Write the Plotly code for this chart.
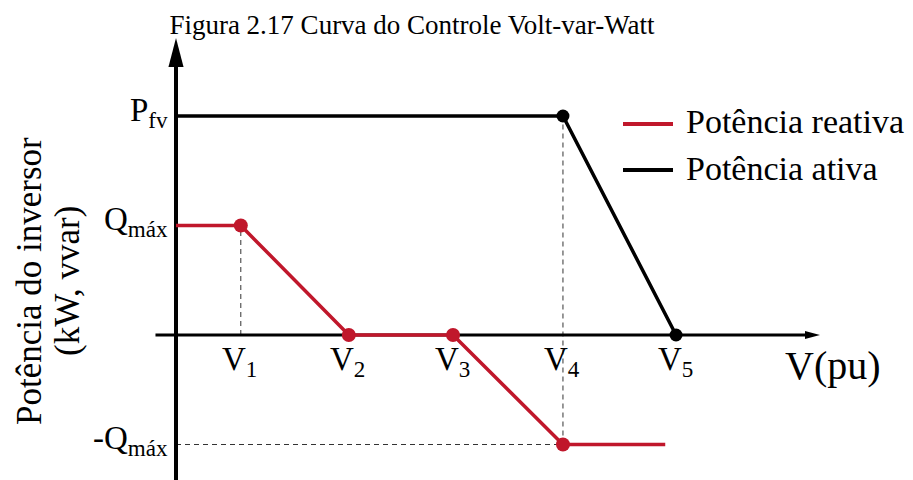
import plotly.graph_objects as go

# Voltage breakpoints of the Volt-var-Watt curve (arbitrary units along V)
v_labels = ["V<sub>1</sub>", "V<sub>2</sub>", "V<sub>3</sub>", "V<sub>4</sub>", "V<sub>5</sub>"]
v_points = [0.60, 1.60, 2.565, 3.583, 4.63]
v_reactive_end = 4.53

# Power levels (arbitrary units)
p_fv = 2.0
q_max = 1.0
y_labels = ["P<sub>fv</sub>", "Q<sub>máx</sub>", "-Q<sub>máx</sub>"]
y_levels = [p_fv, q_max, -q_max]

series_names = ["Potência reativa", "Potência ativa"]
series_colors = ["#C0172B", "#000000"]

y_title_lines = ["Potência do inversor", "(kW, vvar)"]

# Curves
reactive_x = [0.0] + v_points[:4] + [v_reactive_end]
reactive_y = [q_max, q_max, 0.0, 0.0, -q_max, -q_max]
active_x = [0.0, v_points[3], v_points[4]]
active_y = [p_fv, p_fv, 0.0]

# Extent of the drawn axes
x_min, x_max = -1.6296, 6.8241
y_min, y_max = -1.3242, 3.0594
h_axis_start, h_axis_end = -0.19, 5.963
v_axis_top = 2.712

SERIF = "Liberation Serif"

fig = go.Figure()

# Reactive power curve
fig.add_trace(go.Scatter(
    x=reactive_x, y=reactive_y, mode="lines",
    line=dict(color=series_colors[0], width=3.5), hoverinfo="skip"))
fig.add_trace(go.Scatter(
    x=reactive_x[1:5], y=reactive_y[1:5], mode="markers",
    marker=dict(color=series_colors[0], size=14), hoverinfo="skip"))

# Active power curve
fig.add_trace(go.Scatter(
    x=active_x, y=active_y, mode="lines",
    line=dict(color=series_colors[1], width=3.5), hoverinfo="skip"))
fig.add_trace(go.Scatter(
    x=active_x[1:], y=active_y[1:], mode="markers",
    marker=dict(color=series_colors[1], size=13), hoverinfo="skip"))

shapes = []
dash_style = dict(color="#333333", width=1, dash="5px,4px")

# Guide lines
shapes.append(dict(type="line", x0=v_points[0], x1=v_points[0], y0=0, y1=q_max,
                   line=dash_style, layer="below"))
shapes.append(dict(type="line", x0=v_points[3], x1=v_points[3], y0=-q_max, y1=p_fv,
                   line=dash_style, layer="below"))
shapes.append(dict(type="line", x0=0, x1=v_points[3], y0=-q_max, y1=-q_max,
                   line=dash_style, layer="below"))

# Horizontal axis with arrow
shapes.append(dict(type="line", x0=h_axis_start, x1=h_axis_end - 0.08, y0=0, y1=0,
                   line=dict(color="black", width=3), layer="below"))
ah_len, ah_half = 0.139, 0.037
shapes.append(dict(
    type="path", layer="below", fillcolor="black", line=dict(width=0),
    path=f"M {h_axis_end},0 L {h_axis_end - ah_len},{ah_half} "
         f"L {h_axis_end - ah_len},{-ah_half} Z"))

# Vertical axis with arrow
shapes.append(dict(type="line", x0=0, x1=0, y0=y_min, y1=v_axis_top - 0.2,
                   line=dict(color="black", width=4), layer="below"))
av_len, av_half = 0.265, 0.07
shapes.append(dict(
    type="path", layer="below", fillcolor="black", line=dict(width=0),
    path=f"M 0,{v_axis_top} L {-av_half},{v_axis_top - av_len} "
         f"L {av_half},{v_axis_top - av_len} Z"))

annotations = []

# Voltage tick labels
for lbl, v in zip(v_labels, v_points):
    annotations.append(dict(x=v, y=0, text=lbl, showarrow=False,
                            xanchor="center", yanchor="top", yshift=-4, xshift=-1,
                            font=dict(family=SERIF, size=33, color="black")))
annotations.append(dict(x=h_axis_end, y=0, text="V(pu)", showarrow=False,
                        xanchor="center", yanchor="top", yshift=-6, xshift=13,
                        font=dict(family=SERIF, size=40, color="black")))

# Power level labels
for lbl, lev in zip(y_labels, y_levels):
    annotations.append(dict(x=0, y=lev, text=lbl, showarrow=False,
                            xanchor="right", yanchor="middle", xshift=-6, yshift=4,
                            font=dict(family=SERIF, size=33, color="black")))

# Axis title (two lines, rotated)
for line_text, xc in zip(y_title_lines, [29, 67]):
    annotations.append(dict(xref="paper", yref="paper", x=xc / 913, y=1 - 281 / 480,
                            text=line_text, textangle=-90, showarrow=False,
                            xanchor="center", yanchor="middle",
                            font=dict(family=SERIF, size=35, color="black")))

# Legend
legend_rows = [124, 170]
for name, color, row in zip(series_names, series_colors, legend_rows):
    yp = 1 - row / 480
    shapes.append(dict(type="line", xref="paper", yref="paper",
                       x0=623 / 913, x1=673 / 913, y0=yp, y1=yp,
                       line=dict(color=color, width=4)))
    annotations.append(dict(xref="paper", yref="paper", x=684 / 913, y=yp,
                            text=name, showarrow=False, xanchor="left",
                            yanchor="middle", yshift=2,
                            font=dict(family=SERIF, size=34, color="black")))

fig.update_layout(
    width=913, height=480,
    margin=dict(l=0, r=0, t=0, b=0),
    paper_bgcolor="white", plot_bgcolor="rgba(0,0,0,0)",
    showlegend=False,
    title=dict(text="Figura 2.17 Curva do Controle Volt-var-Watt",
               x=412 / 913, xanchor="center", y=1 - 25 / 480, yanchor="middle",
               yref="container",
               font=dict(family=SERIF, size=27, color="black")),
    xaxis=dict(range=[x_min, x_max], visible=False, fixedrange=True),
    yaxis=dict(range=[y_min, y_max], visible=False, fixedrange=True),
    shapes=shapes,
    annotations=annotations,
)

fig.write_html("out.html")
